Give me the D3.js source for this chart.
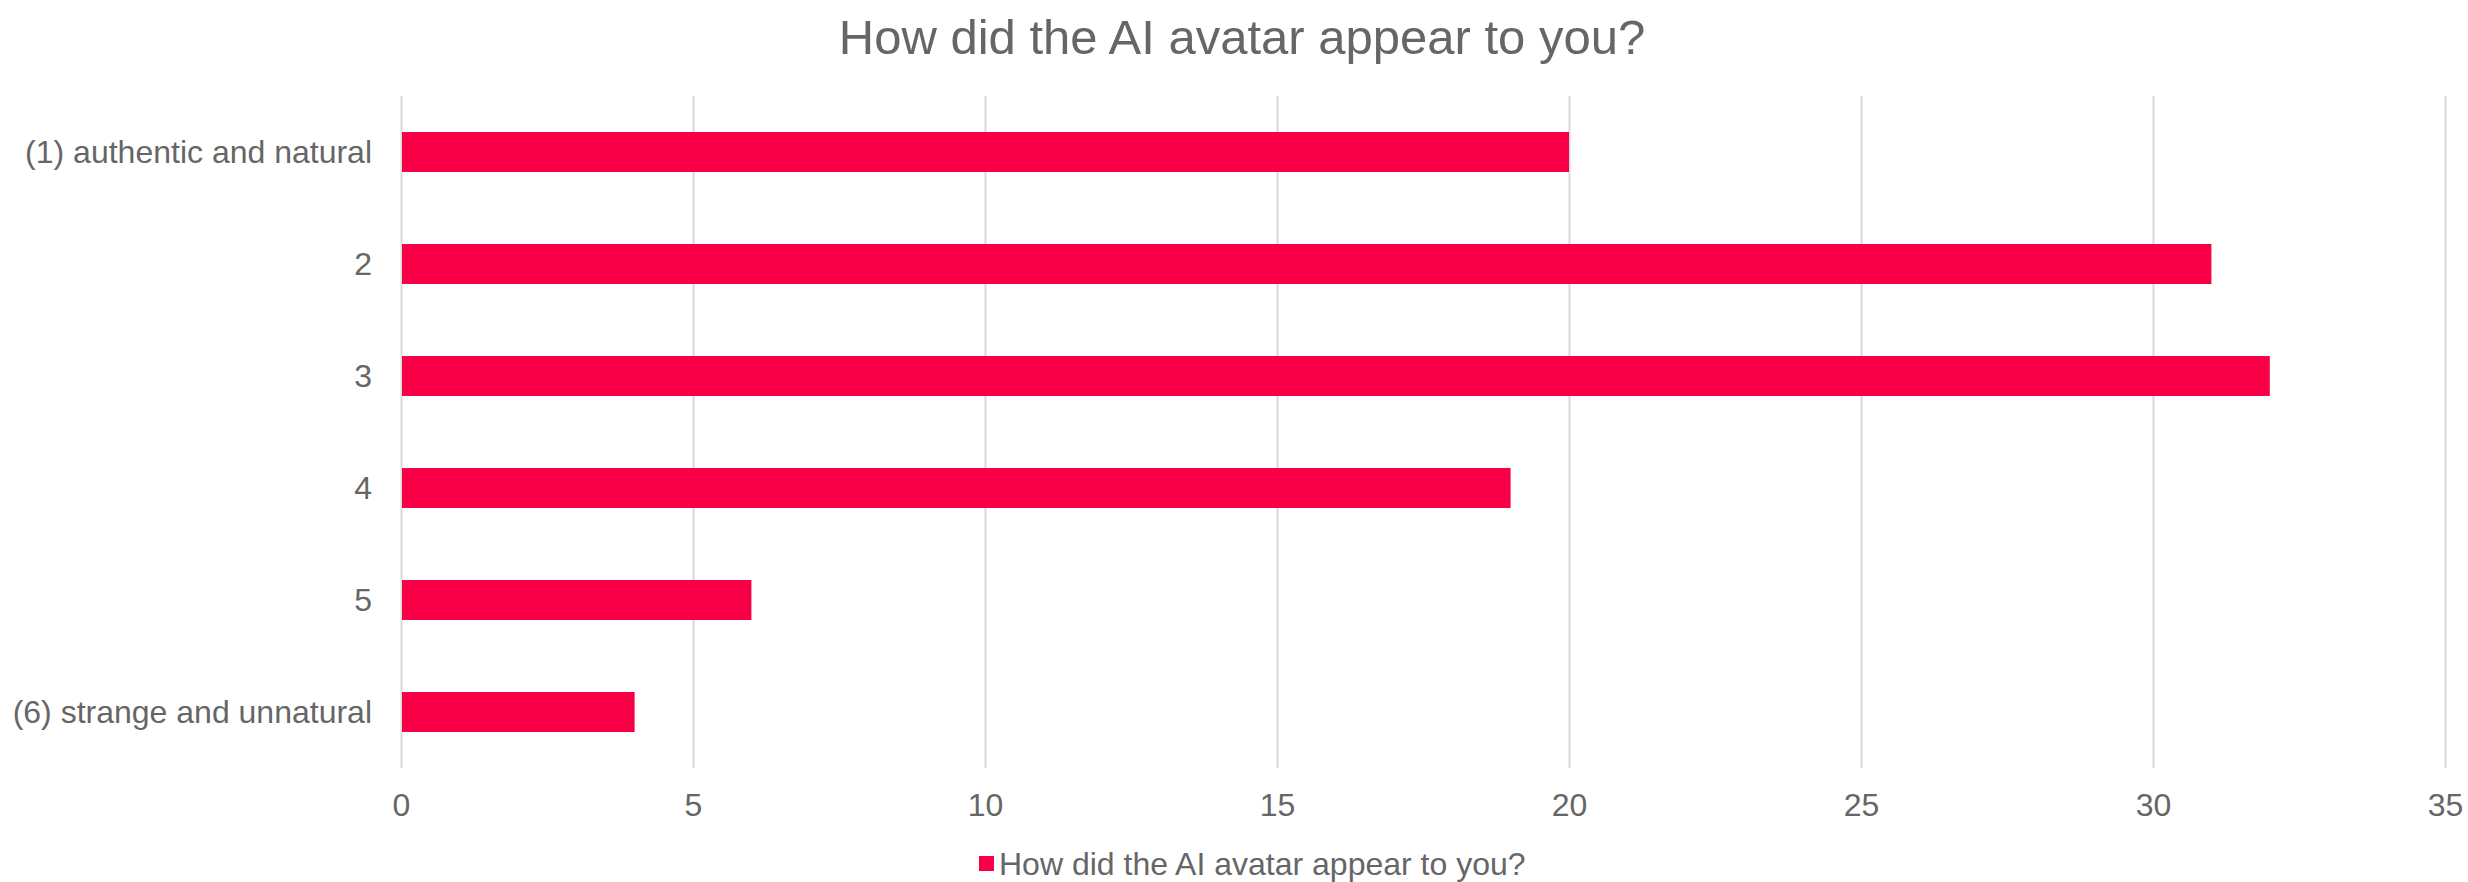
<!DOCTYPE html>
<html>
<head>
<meta charset="utf-8">
<script src="https://cdn.jsdelivr.net/npm/d3@7"></script>
<style>
	body { margin: 0; background: #fff; }
	svg text { font-family: "Liberation Sans", Arial, sans-serif; fill: #666666; }
</style>
</head>
<body>
<svg id="chart" width="2468" height="882"></svg>
<script>
const categories = ['(1) authentic and natural', '2', '3', '4', '5', '(6) strange and unnatural'];
const counts = [20, 31, 32, 19, 6, 4];
const xTicks = [0, 5, 10, 15, 20, 25, 30, 35];
const seriesName = 'How did the AI avatar appear to you?';
const title = 'How did the AI avatar appear to you?';

const W = 2468, H = 882;
const m = { left: 401, right: 23, top: 96, bottom: 114 };
const BAR = '#f80046';

let svg = d3.select('#chart');

let x = d3.scaleLinear().domain([0, 35]).range([m.left, W - m.right]);
let y = d3.scaleBand().domain(categories).range([m.top, H - m.bottom]).paddingInner(0.643).paddingOuter(0.3215);

// gridlines
svg.append('g')
	.selectAll('line')
		.data(xTicks)
	.enter().append('line')
		.attr('x1', d => x(d) + 0.5)
		.attr('x2', d => x(d) + 0.5)
		.attr('y1', m.top)
		.attr('y2', H - m.bottom)
		.attr('stroke', '#d9d9d9')
		.attr('stroke-width', 2);

// bars
svg.append('g')
	.selectAll('rect')
		.data(counts)
	.enter().append('rect')
		.attr('x', x(0) + 1)
		.attr('y', (d, i) => y(categories[i]))
		.attr('width', d => x(d) - x(0) - 1)
		.attr('height', y.bandwidth())
		.attr('fill', BAR);

// x axis
let xAxis = d3.axisBottom(x).tickValues(xTicks).tickSize(0).tickPadding(0);
svg.append('g')
	.attr('transform', `translate(0,${H - m.bottom})`)
	.call(xAxis)
	.call(g => g.select('.domain').remove())
	.selectAll('text')
		.attr('dy', null)
		.attr('y', 48)
		.style('font-size', '32px');

// y axis
let yAxis = d3.axisLeft(y).tickSize(0).tickPadding(29);
svg.append('g')
	.attr('transform', `translate(${m.left},0)`)
	.call(yAxis)
	.call(g => g.select('.domain').remove())
	.selectAll('text')
		.attr('dy', '0.35em')
		.style('font-size', '32px');

// title
svg.append('text')
	.attr('x', 1242)
	.attr('y', 54)
	.attr('text-anchor', 'middle')
	.style('font-size', '49px')
	.text(title);

// legend
let lg = svg.append('g').attr('transform', 'translate(979,856)');
lg.append('rect').attr('width', 15).attr('height', 15).attr('fill', BAR);
lg.append('text')
	.attr('x', 20)
	.attr('y', 19)
	.style('font-size', '32px')
	.text(seriesName);
</script>
</body>
</html>
